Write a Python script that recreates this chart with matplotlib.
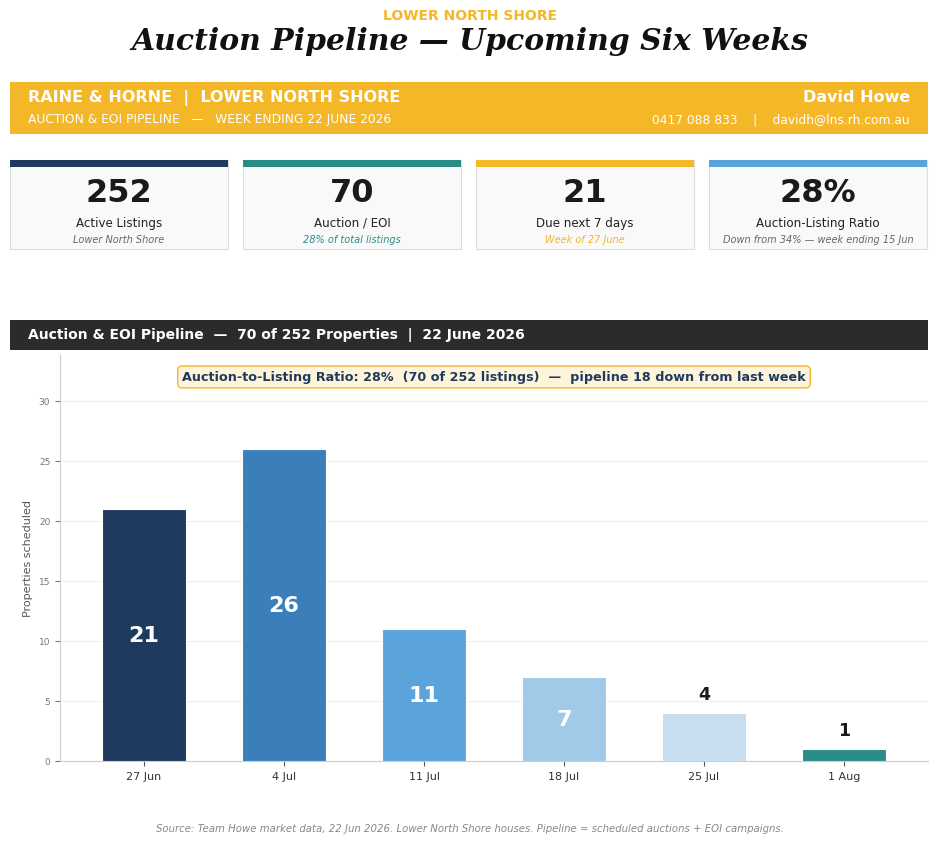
import numpy as np
import matplotlib.pyplot as plt
from matplotlib.patches import Rectangle

# data
weeks = ["27 Jun", "4 Jul", "11 Jul", "18 Jul", "25 Jul", "1 Aug"]
scheduled = [21, 26, 11, 7, 4, 1]
bar_colors = ["#1E3A5F", "#3A7FBA", "#5BA3DB", "#A0CAE8", "#C6DEEF", "#2A8C87"]

kpi_values = ["252", "70", "21", "28%"]
kpi_labels = ["Active Listings", "Auction / EOI", "Due next 7 days", "Auction-Listing Ratio"]
kpi_notes = ["Lower North Shore", "28% of total listings", "Week of 27 June",
             "Down from 34% \u2014 week ending 15 Jun"]
kpi_colors = ["#1E3A5F", "#2A8C87", "#F4B728", "#5BA3DB"]
kpi_note_colors = ["#666666", "#2A8C87", "#F4B728", "#666666"]

W, H = 940, 845
GOLD = "#F4B728"
NAVY = "#1E3A5F"

fig = plt.figure(figsize=(W / 100, H / 100), dpi=100)


def fx(x):
    return x / W


def fy(y):
    return 1 - y / H


def box(x0, y0, x1, y1, **kw):
    fig.patches.append(Rectangle((fx(x0), fy(y1)), fx(x1) - fx(x0), fy(y0) - fy(y1),
                                 transform=fig.transFigure, **kw))


# header
fig.text(0.5, fy(16), "LOWER NORTH SHORE", color=GOLD, fontsize=10, fontweight="bold",
         ha="center", va="center")
fig.text(0.5, fy(41), "Auction Pipeline \u2014 Upcoming Six Weeks", family="DejaVu Serif",
         fontsize=21.5, fontweight="bold", style="italic", color="#111111", ha="center", va="center")

# gold banner
box(10, 83, 928, 135, facecolor=GOLD, edgecolor="none")
fig.text(fx(28), fy(98), "RAINE & HORNE  |  LOWER NORTH SHORE", color="white", fontsize=11.5,
         fontweight="bold", va="center")
fig.text(fx(28), fy(120), "AUCTION & EOI PIPELINE   \u2014   WEEK ENDING 22 JUNE 2026", color="white",
         fontsize=8.8, va="center")
fig.text(fx(910), fy(98), "David Howe", color="white", fontsize=11.5, fontweight="bold",
         ha="right", va="center")
fig.text(fx(910), fy(120), "0417 088 833    |    davidh@lns.rh.com.au", color="white",
         fontsize=8.8, ha="right", va="center")

# KPI cards
card_x = [10, 243, 476, 709]
for i in range(4):
    x0 = card_x[i]
    x1 = x0 + 218
    box(x0, 161, x1, 250, facecolor="#F9F9F9", edgecolor="#DDDDDD", lw=0.8)
    box(x0, 161, x1, 168, facecolor=kpi_colors[i], edgecolor="none")
    cx = fx((x0 + x1) / 2)
    fig.text(cx, fy(194), kpi_values[i], fontsize=23, fontweight="bold", color="#1A1A1A",
             ha="center", va="center")
    fig.text(cx, fy(223), kpi_labels[i], fontsize=8.6, color="#222222", ha="center", va="center")
    fig.text(cx, fy(240), kpi_notes[i], fontsize=7, style="italic", color=kpi_note_colors[i],
             ha="center", va="center")

# dark section banner
box(10, 321, 928, 351, facecolor="#2B2B2B", edgecolor="none")
fig.text(fx(28), fy(335), "Auction & EOI Pipeline  \u2014  70 of 252 Properties  |  22 June 2026",
         color="white", fontsize=10, fontweight="bold", va="center")

# bar chart
ax = fig.add_axes([fx(60), fy(762), fx(928) - fx(60), fy(356) - fy(762)])
x = np.arange(len(weeks))
bars = ax.bar(x, scheduled, width=0.6, color=bar_colors, edgecolor="white", linewidth=0.8, zorder=3)
ax.set_xlim(-0.6, len(weeks) - 0.4)
ax.set_ylim(0, max(scheduled) * 1.3)
ax.set_xticks(x)
ax.set_xticklabels(weeks, fontsize=8, color="#333333")
ax.set_yticks(range(0, 31, 5))
ax.tick_params(axis="y", labelsize=6.5, colors="#777777")
ax.tick_params(axis="x", colors="#555555", labelcolor="#333333")
ax.set_ylabel("Properties scheduled", fontsize=8, color="#555555")
ax.yaxis.grid(True, color="#EEEEEE", lw=0.8, zorder=0)
ax.set_axisbelow(True)
for s in ["top", "right"]:
    ax.spines[s].set_visible(False)
ax.spines["left"].set_color("#CCCCCC")
ax.spines["bottom"].set_color("#CCCCCC")

for xi, v in zip(x, scheduled):
    if v >= 6:
        ax.text(xi, v / 2, str(v), color="white", fontsize=16, fontweight="bold",
                ha="center", va="center", zorder=4)
    else:
        ax.text(xi, v + 1.55, str(v), color="#1A1A1A", fontsize=12.5, fontweight="bold",
                ha="center", va="center", zorder=4)

ax.text(0.5, 0.946,
        "Auction-to-Listing Ratio: 28%  (70 of 252 listings)  \u2014  pipeline 18 down from last week",
        transform=ax.transAxes, ha="center", va="center", fontsize=9.2, fontweight="bold", color=NAVY,
        bbox=dict(boxstyle="round,pad=0.35", facecolor="#FEF4DA", edgecolor=GOLD, lw=1))

# footer
fig.text(0.5, fy(829), "Source: Team Howe market data, 22 Jun 2026. Lower North Shore houses. "
         "Pipeline = scheduled auctions + EOI campaigns.", fontsize=7.3, style="italic",
         color="#888888", ha="center", va="center")

fig.savefig("out.png", dpi=100)
